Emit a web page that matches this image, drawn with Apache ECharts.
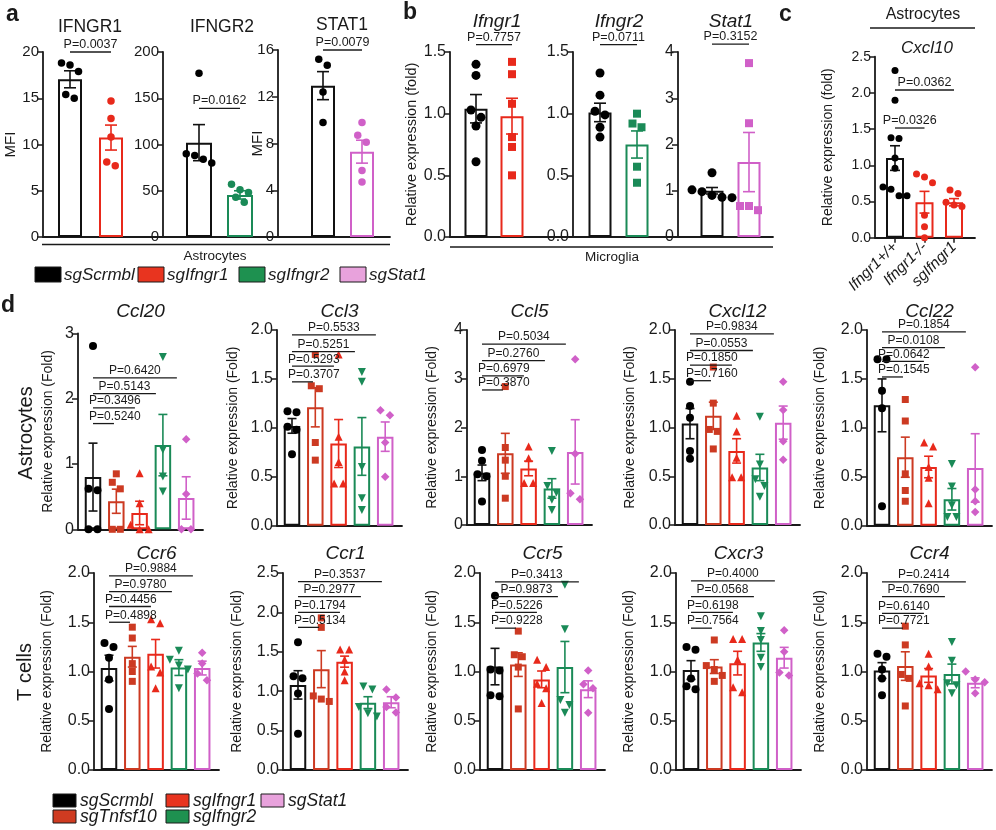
<!DOCTYPE html>
<html>
<head>
<meta charset="utf-8">
<title>Figure</title>
<script src="https://cdn.jsdelivr.net/npm/echarts@6/dist/echarts.min.js"></script>
<style>
html,body{margin:0;padding:0;background:#ffffff;}
#chart{width:996px;height:830px;}
</style>
</head>
<body>
<div id="chart"></div>
<script>
// ===================== DATA =====================
// ---- Panel a : MFI, astrocytes
const aIfngr1Groups = ['sgScrmbl', 'sgIfngr1'];
const aIfngr1Mean = [17.05, 10.75];
const aIfngr1Sem = [0.92, 1.35];
const aIfngr1Points = [[18.8, 18.6, 17.9, 15.4, 15.0], [14.7, 12.8, 10.8, 8.1, 7.7]];
const aIfngr1P = ['P=0.0037'];

const aIfngr2Groups = ['sgScrmbl', 'sgIfngr2'];
const aIfngr2Mean = [102, 45.5];
const aIfngr2Sem = [19.5, 4.5];
const aIfngr2Points = [[177, 90, 88, 84, 80], [57, 51, 48, 43, 37.5]];
const aIfngr2P = ['P=0.0162'];

const aStat1Groups = ['sgScrmbl', 'sgStat1'];
const aStat1Mean = [12.95, 7.3];
const aStat1Sem = [1.2, 0.98];
const aStat1Points = [[15.2, 14.7, 12.4, 9.8], [9.8, 8.7, 8.1, 5.7, 4.7]];
const aStat1P = ['P=0.0079'];

// ---- Panel b : relative expression, microglia
const bIfngr1Groups = ['sgScrmbl', 'sgIfngr1'];
const bIfngr1Mean = [1.04, 0.98];
const bIfngr1Sem = [0.115, 0.145];
const bIfngr1Points = [[1.40, 1.31, 1.03, 0.97, 0.90, 0.61], [1.42, 1.32, 1.08, 0.81, 0.73, 0.50]];
const bIfngr1P = ['P=0.7757'];

const bIfngr2Groups = ['sgScrmbl', 'sgIfngr2'];
const bIfngr2Mean = [1.01, 0.75];
const bIfngr2Sem = [0.075, 0.11];
const bIfngr2Points = [[1.33, 1.15, 1.02, 0.99, 0.89, 0.81], [1.00, 0.92, 0.89, 0.57, 0.44]];
const bIfngr2P = ['P=0.0711'];

const bStat1Groups = ['sgScrmbl', 'sgStat1'];
const bStat1Mean = [1.0, 1.62];
const bStat1Sem = [0.07, 0.64];
const bStat1Points = [[1.39, 1.02, 0.98, 0.90, 0.86, 0.85], [3.76, 2.46, 0.67, 0.67, 0.58]];
const bStat1P = ['P=0.3152'];

// ---- Panel c : Cxcl10, astrocytes
const cGroups = ['Ifngr1+/+', 'Ifngr1-/-', 'sgIfngr1'];
const cMean = [1.10, 0.49, 0.49];
const cSem = [0.17, 0.15, 0.05];
const cPoints = [[2.31, 1.90, 1.38, 1.37, 1.10, 0.96, 0.70, 0.67, 0.58, 0.58],
                 [0.88, 0.84, 0.76, 0.31, 0.15, 0.0],
                 [0.66, 0.61, 0.49, 0.45, 0.43]];
const cP = ['P=0.0326', 'P=0.0362'];

// ---- Panel d : chemokines (astrocytes row, T cells row)
const dGroups = ['sgScrmbl', 'sgTnfsf10', 'sgIfngr1', 'sgIfngr2', 'sgStat1'];

const ccl20Mean = [0.80, 0.43, 0.25, 1.29, 0.48];
const ccl20Sem = [0.52, 0.185, 0.18, 0.47, 0.325];
const ccl20Points = [[2.81, 0.62, 0.60, 0, 0], [0.85, 0.72, 0.62, 0, 0], [0.86, 0.40, 0.07, 0, 0], [2.64, 1.22, 0.81, 0.58], [1.38, 0.54, 0, 0]];
const ccl20P = ['P=0.5240', 'P=0.3496', 'P=0.5143', 'P=0.6420'];

const ccl3Mean = [1.02, 1.21, 0.84, 0.81, 0.91];
const ccl3Sem = [0.075, 0.2, 0.245, 0.295, 0.15];
const ccl3Points = [[1.17, 1.16, 1.01, 0.98, 0.73], [1.75, 1.43, 1.40, 0.85, 0.67], [1.75, 0.91, 0.65, 0.43, 0.43], [1.57, 1.47, 0.60, 0.28, 0.16], [1.18, 1.13, 0.85, 0.50]];
const ccl3P = ['P=0.3707', 'P=0.5293', 'P=0.5251', 'P=0.5533'];

const ccl5Mean = [1.07, 1.47, 1.16, 0.75, 1.50];
const ccl5Sem = [0.16, 0.41, 0.15, 0.2, 0.66];
const ccl5Points = [[1.54, 1.32, 1.04, 1.00, 0.48], [2.84, 1.59, 1.33, 1.00, 0.55], [1.61, 1.37, 0.86, 0.86], [1.52, 0.80, 0.66, 0.52, 0.31], [3.40, 1.46, 0.65, 0.53]];
const ccl5P = ['P=0.3870', 'P=0.6979', 'P=0.2760', 'P=0.5034'];

const cxcl12Mean = [1.04, 1.12, 0.76, 0.59, 1.05];
const cxcl12Sem = [0.155, 0.14, 0.125, 0.135, 0.17];
const cxcl12Points = [[1.47, 1.22, 1.10, 0.76, 0.68], [1.62, 1.25, 0.98, 0.96, 0.78], [1.12, 0.96, 0.69, 0.49, 0.49], [1.11, 0.62, 0.47, 0.40, 0.29], [1.47, 1.18, 0.86, 0.67]];
const cxcl12P = ['P=0.7160', 'P=0.1850', 'P=0.0553', 'P=0.9834'];

const ccl22Mean = [1.23, 0.70, 0.60, 0.27, 0.59];
const ccl22Sem = [0.27, 0.205, 0.11, 0.11, 0.35];
const ccl22Points = [[1.70, 1.70, 1.38, 1.20, 0.20], [1.29, 1.07, 0.53, 0.36, 0.25], [0.85, 0.81, 0.60, 0.49, 0.23], [0.63, 0.40, 0.21, 0.09, 0.09], [1.62, 0.37, 0.25, 0.14]];
const ccl22P = ['P=0.1545', 'P=0.0642', 'P=0.0108', 'P=0.1854'];

const ccr6Mean = [1.035, 1.15, 1.18, 1.04, 1.035];
const ccr6Sem = [0.13, 0.105, 0.145, 0.08, 0.07];
const ccr6Points = [[1.29, 1.25, 1.14, 0.92, 0.62], [1.45, 1.34, 1.08, 1.00, 0.90], [1.53, 1.49, 1.05, 0.99, 0.83], [1.21, 1.12, 1.06, 1.02, 0.83], [1.19, 1.08, 0.98, 0.91]];
const ccr6P = ['P=0.4898', 'P=0.4456', 'P=0.9780', 'P=0.9884'];

const ccr1Mean = [1.08, 1.28, 1.375, 0.855, 0.86];
const ccr1Sem = [0.18, 0.235, 0.07, 0.075, 0.07];
const ccr1Points = [[1.62, 1.19, 1.165, 0.97, 0.46], [1.93, 1.81, 0.94, 0.90, 0.87], [1.53, 1.53, 1.40, 1.25, 1.14], [1.06, 1.02, 0.80, 0.72, 0.68], [1.02, 0.92, 0.80, 0.73]];
const ccr1P = ['P=0.5134', 'P=0.1794', 'P=0.2977', 'P=0.3537'];

const ccr5Mean = [1.05, 1.07, 0.92, 1.045, 0.82];
const ccr5Sem = [0.185, 0.12, 0.085, 0.26, 0.085];
const ccr5Points = [[1.77, 1.02, 1.01, 0.76, 0.75], [1.41, 1.17, 1.15, 1.045, 0.62], [1.12, 1.045, 0.875, 0.83, 0.68], [1.88, 1.43, 0.71, 0.66, 0.58], [1.01, 0.87, 0.83, 0.58]];
const ccr5P = ['P=0.9228', 'P=0.5226', 'P=0.9873', 'P=0.3413'];

const cxcr3Mean = [1.015, 1.05, 1.085, 1.295, 1.14];
const cxcr3Sem = [0.095, 0.07, 0.12, 0.09, 0.105];
const cxcr3Points = [[1.25, 1.22, 0.93, 0.85, 0.82], [1.32, 1.06, 1.02, 0.96, 0.90], [1.33, 1.33, 1.12, 0.84, 0.79], [1.56, 1.41, 1.32, 1.14, 1.045], [1.42, 1.20, 0.99, 0.96]];
const cxcr3P = ['P=0.7564', 'P=0.6198', 'P=0.0568', 'P=0.4000'];

const ccr4Mean = [1.01, 1.055, 0.96, 0.975, 0.885];
const ccr4Sem = [0.08, 0.145, 0.07, 0.1, 0.05];
const ccr4Points = [[1.18, 1.15, 1.02, 0.93, 0.76], [1.46, 1.27, 0.97, 0.93, 0.65], [1.18, 1.05, 0.88, 0.86, 0.82], [1.30, 1.11, 0.88, 0.86, 0.78], [1.00, 0.92, 0.89, 0.78]];
const ccr4P = ['P=0.7721', 'P=0.6140', 'P=0.7690', 'P=0.2414'];

// legend entries
const legendATexts = ['sgScrmbl', 'sgIfngr1', 'sgIfngr2', 'sgStat1'];
const legendDRow1 = ['sgScrmbl', 'sgIfngr1', 'sgStat1'];
const legendDRow2 = ['sgTnfsf10', 'sgIfngr2'];

// ===================== STYLE / LAYOUT =====================
const FONT = '"Liberation Sans", Arial, Helvetica, sans-serif';
const INK = '#1a1a1a';
const groupColor = {
  'sgScrmbl': '#111111', 'sgTnfsf10': '#cc3a22', 'sgIfngr1': '#e8291b',
  'sgIfngr2': '#1a8a57', 'sgStat1': '#d060c8',
  'Ifngr1+/+': '#111111', 'Ifngr1-/-': '#e8291b'
};
const pointColor = g => (g === 'sgScrmbl' || g === 'Ifngr1+/+') ? '#000000' : groupColor[g];
const legendFill = {
  'sgScrmbl': '#000000', 'sgIfngr1': '#e8341f', 'sgIfngr2': '#1e9150',
  'sgStat1': '#e8a2dc', 'sgTnfsf10': '#cf3b21'
};
const dSymbols = {
  'sgScrmbl': {symbol: 'circle', size: 8, rotate: 0},
  'sgTnfsf10': {symbol: 'rect', size: 7, rotate: 0},
  'sgIfngr1': {symbol: 'triangle', size: 8, rotate: 0},
  'sgIfngr2': {symbol: 'triangle', size: 8, rotate: 180},
  'sgStat1': {symbol: 'diamond', size: 8.5, rotate: 0}
};

const panels = [];
const aBase = {pairs: [[0, 1]], bscale: 1, clamp: false, cap: 6, dec: 0, tickFont: 15, nameFont: 15,
  titleFont: 17.5, titleItalic: false, marker: 'a', pFont: 12.5, height: 185, top: 52};
panels.push(Object.assign({}, aBase, {groups: aIfngr1Groups, mean: aIfngr1Mean, sem: aIfngr1Sem, points: aIfngr1Points, pvals: aIfngr1P,
  levels: [20], left: 43, width: 120, first: 27, spacing: 41, barW: 24, ymax: 20, interval: 5,
  yName: 'MFI', nameGap: 25, title: 'IFNGR1', titleX: 90, titleY: 27}));
panels.push(Object.assign({}, aBase, {groups: aIfngr2Groups, mean: aIfngr2Mean, sem: aIfngr2Sem, points: aIfngr2Points, pvals: aIfngr2P,
  levels: [139], left: 163, width: 115, first: 36, spacing: 41, barW: 26, ymax: 200, interval: 50,
  yName: '', nameGap: 10, title: 'IFNGR2', titleX: 222, titleY: 27}));
panels.push(Object.assign({}, aBase, {groups: aStat1Groups, mean: aStat1Mean, sem: aStat1Sem, points: aStat1Points, pvals: aStat1P,
  levels: [16], left: 278, top: 50, height: 187, width: 112, first: 45, spacing: 39, barW: 24, ymax: 16, interval: 4,
  yName: 'MFI', nameGap: 13, title: 'STAT1', titleX: 342, titleY: 25}));

const bBase = {pairs: [[0, 1]], bscale: 1, clamp: false, cap: 6, tickFont: 16, nameFont: 14.5,
  titleFont: 19, titleItalic: true, marker: 'b', pFont: 12.5, height: 185, top: 52, barW: 23};
panels.push(Object.assign({}, bBase, {groups: bIfngr1Groups, mean: bIfngr1Mean, sem: bIfngr1Sem, points: bIfngr1Points, pvals: bIfngr1P,
  levels: [1.56], left: 450, width: 123, first: 26, spacing: 36, ymax: 1.5, interval: 0.5, dec: 1,
  yName: 'Relative expression (fold)', nameGap: 31, title: 'Ifngr1', titleX: 497, titleY: 22}));
panels.push(Object.assign({}, bBase, {groups: bIfngr2Groups, mean: bIfngr2Mean, sem: bIfngr2Sem, points: bIfngr2Points, pvals: bIfngr2P,
  levels: [1.56], left: 573, width: 105, first: 27, spacing: 37, ymax: 1.5, interval: 0.5, dec: 1,
  yName: '', nameGap: 10, title: 'Ifngr2', titleX: 619, titleY: 22}));
panels.push(Object.assign({}, bBase, {groups: bStat1Groups, mean: bStat1Mean, sem: bStat1Sem, points: bStat1Points, pvals: bStat1P,
  levels: [4.17], left: 678, width: 95, first: 34, spacing: 37, ymax: 4, interval: 1, dec: 0,
  yName: '', nameGap: 10, title: 'Stat1', titleX: 731, titleY: 22}));

panels.push({groups: cGroups, mean: cMean, sem: cSem, points: cPoints, pvals: cP, pairs: [[0, 1], [0, 2]], levels: [1.515, 2.04],
  bscale: 1, clamp: false, cap: 5, dec: 1, tickFont: 14, nameFont: 14, titleFont: 17, titleItalic: true, marker: 'c', pFont: 12.5,
  left: 875, top: 56.7, width: 100, height: 181, first: 20, spacing: 29.5, barW: 18, ymax: 2.5, interval: 0.5,
  yName: 'Relative expression (fold)', nameGap: 39.5, title: 'Cxcl10', titleX: 927, titleY: 48, xLabels: true});

function dPanel(title, mean, sem, pts, pv, left, top, height, ymax, interval, nameGap, levels) {
  panels.push({groups: dGroups, mean: mean, sem: sem, points: pts, pvals: pv,
    pairs: [[0, 1], [0, 2], [0, 3], [0, 4]], levels: levels, bscale: 0.9, clamp: true,
    cap: 4.5, dec: interval < 1 ? 1 : 0, tickFont: 16, nameFont: 14, titleFont: 19, titleItalic: true, marker: 'd', pFont: 12,
    left: left, top: top, width: 125, height: height, first: 15, spacing: 23.3, barW: 16.5, ymax: ymax, interval: interval,
    yName: 'Relative expression (Fold)', nameGap: nameGap, title: title, titleX: left + 62.5, titleY: top < 400 ? 312 : 554});
}
dPanel('Ccl20', ccl20Mean, ccl20Sem, ccl20Points, ccl20P, 78, 333.5, 195.8, 3, 1, 23, [1.62, 1.86, 2.08, 2.32]);
dPanel('Ccl3', ccl3Mean, ccl3Sem, ccl3Points, ccl3P, 277, 330, 195.7, 2, 0.5, 37, [1.47, 1.63, 1.78, 1.95]);
dPanel('Ccl5', ccl5Mean, ccl5Sem, ccl5Points, ccl5P, 467, 330, 195, 4, 1, 28, [2.77, 3.06, 3.37, 3.71]);
dPanel('Cxcl12', cxcl12Mean, cxcl12Sem, cxcl12Points, cxcl12P, 675, 330, 195, 2, 0.5, 38, [1.48, 1.64, 1.79, 1.96]);
dPanel('Ccl22', ccl22Mean, ccl22Sem, ccl22Points, ccl22P, 867, 330, 195.7, 2, 0.5, 40, [1.52, 1.68, 1.82, 1.98]);
dPanel('Ccr6', ccr6Mean, ccr6Sem, ccr6Points, ccr6P, 94, 573, 197, 2, 0.5, 40, [1.50, 1.66, 1.81, 1.97]);
dPanel('Ccr1', ccr1Mean, ccr1Sem, ccr1Points, ccr1P, 283, 573, 197, 2.5, 0.5, 39, [1.81, 2.0, 2.20, 2.39]);
dPanel('Ccr5', ccr5Mean, ccr5Sem, ccr5Points, ccr5P, 480, 573, 197, 2, 0.5, 41, [1.44, 1.60, 1.76, 1.91]);
dPanel('Cxcr3', cxcr3Mean, cxcr3Sem, cxcr3Points, cxcr3P, 676, 573, 197, 2, 0.5, 40, [1.44, 1.60, 1.76, 1.92]);
dPanel('Ccr4', ccr4Mean, ccr4Sem, ccr4Points, ccr4P, 867, 573, 197, 2, 0.5, 40, [1.44, 1.59, 1.76, 1.91]);

// ===================== HELPERS =====================
const measureCtx = document.createElement('canvas').getContext('2d');
function textWidth(t, size) { measureCtx.font = size + 'px ' + FONT; return measureCtx.measureText(t).width; }

// simple beeswarm: spread points of similar value horizontally (pixel offsets)
function swarm(vals, ppu, d) {
  const order = vals.map((v, i) => i).sort((a, b) => vals[b] - vals[a]);
  const off = vals.map(() => 0);
  let i = 0;
  while (i < order.length) {
    let j = i + 1;
    while (j < order.length && (vals[order[j - 1]] - vals[order[j]]) * ppu < d * 0.85 &&
           (vals[order[i]] - vals[order[j]]) * ppu < d * 1.3) j++;
    const n = j - i;
    for (let k = 0; k < n; k++) off[order[i + k]] = (k - (n - 1) / 2) * d;
    i = j;
  }
  return off;
}

function symbolFor(p, g, k) {
  if (p.marker === 'a') return {symbol: 'circle', size: 7.5, rotate: 0};
  if (p.marker === 'c') return {symbol: 'circle', size: 7, rotate: 0};
  if (p.marker === 'b') return k === 0 ? {symbol: 'circle', size: 9, rotate: 0} : {symbol: 'rect', size: 8, rotate: 0};
  return dSymbols[g];
}

function textStyle(text, size, extra) {
  extra = extra || {};
  const align = extra.align || 'center', va = extra.va || 'middle';
  return {text: text, fontSize: size, fontFamily: FONT, fontStyle: extra.italic ? 'italic' : 'normal',
    fontWeight: extra.bold ? 'bold' : 'normal', fill: INK, textFill: INK,
    align: align, textAlign: align, verticalAlign: va, textVerticalAlign: va};
}

// ===================== OPTION =====================
const grid = [], xAxis = [], yAxis = [], series = [], graphics = [];
const axisLineStyle = {color: INK, width: 1.8};

panels.forEach((p, gi) => {
  const xmin = -p.first / p.spacing, xmax = (p.width - p.first) / p.spacing;
  grid.push({left: p.left, top: p.top, width: p.width, height: p.height, containLabel: false, outerBoundsMode: 'none'});
  const xa = {type: 'value', gridIndex: gi, min: xmin, max: xmax,
    axisLine: {show: true, onZero: false, lineStyle: axisLineStyle},
    axisTick: {show: false}, axisLabel: {show: false}, splitLine: {show: false}};
  if (p.xLabels) {
    const cv = p.groups.map((g, k) => k);
    xa.axisTick = {show: true, customValues: cv, length: 5, lineStyle: {color: INK, width: 1.5}};
    xa.axisLabel = {show: true, customValues: cv, rotate: 45, margin: 7, color: INK, fontSize: 15.5, fontStyle: 'italic',
      fontFamily: FONT, formatter: v => p.groups[Math.round(v)]};
  }
  xAxis.push(xa);
  yAxis.push({type: 'value', gridIndex: gi, min: 0, max: p.ymax, interval: p.interval,
    axisLine: {show: true, onZero: false, lineStyle: axisLineStyle},
    axisTick: {show: true, inside: false, length: 6, lineStyle: {color: INK, width: 1.5}},
    axisLabel: {show: true, margin: 4, color: INK, fontSize: p.tickFont, fontFamily: FONT,
      formatter: v => p.dec ? v.toFixed(1) : String(Math.round(v))},
    splitLine: {show: false},
    name: p.yName, nameLocation: 'middle', nameGap: p.nameGap, nameMoveOverlap: false,
    nameTextStyle: {fontSize: p.nameFont, fontFamily: FONT, color: INK}});

  // bars (mean)
  series.push({type: 'bar', xAxisIndex: gi, yAxisIndex: gi, barWidth: p.barW, z: 2, silent: true,
    data: p.mean.map((m, k) => ({value: [k, m],
      itemStyle: {color: '#ffffff', borderColor: groupColor[p.groups[k]], borderWidth: 2}}))});

  // error bars (mean ± SEM)
  series.push({type: 'custom', xAxisIndex: gi, yAxisIndex: gi, z: 3, silent: true, clip: false,
    data: p.mean.map((m, k) => [k, m - p.sem[k], m + p.sem[k]]),
    renderItem: (params, api) => {
      const k = api.value(0);
      const lo = api.coord([k, Math.max(0, api.value(1))]);
      const hi = api.coord([k, api.value(2)]);
      const col = groupColor[p.groups[params.dataIndex]];
      const st = {stroke: col, lineWidth: 1.6};
      const c = p.cap;
      return {type: 'group', children: [
        {type: 'line', shape: {x1: lo[0], y1: lo[1], x2: hi[0], y2: hi[1]}, style: st},
        {type: 'line', shape: {x1: hi[0] - c, y1: hi[1], x2: hi[0] + c, y2: hi[1]}, style: st},
        {type: 'line', shape: {x1: lo[0] - c, y1: lo[1], x2: lo[0] + c, y2: lo[1]}, style: st}
      ]};
    }});

  // individual points
  p.groups.forEach((g, k) => {
    const sym = symbolFor(p, g, k);
    const off = swarm(p.points[k], p.height / p.ymax, sym.size + 1);
    series.push({type: 'scatter', xAxisIndex: gi, yAxisIndex: gi, z: 4, silent: true, clip: false,
      symbol: sym.symbol, symbolSize: sym.size, symbolRotate: sym.rotate,
      itemStyle: {color: pointColor(g), opacity: 1},
      data: p.points[k].map((v, j) => ({value: [k, v], symbolOffset: [off[j], 0]}))});
  });

  // significance brackets
  series.push({type: 'custom', xAxisIndex: gi, yAxisIndex: gi, z: 6, silent: true, clip: false,
    data: p.pairs.map((pr, i) => [pr[0], pr[0] + (pr[1] - pr[0]) * p.bscale, p.levels[i]]),
    renderItem: (params, api) => {
      const i = params.dataIndex;
      const a = api.coord([api.value(0), api.value(2)]);
      const b = api.coord([api.value(1), api.value(2)]);
      const t = p.pvals[i];
      const w = textWidth(t, p.pFont);
      let left = (a[0] + b[0]) / 2 - w / 2;
      if (p.clamp) left = Math.max(left, a[0] - 4);
      return {type: 'group', children: [
        {type: 'line', shape: {x1: a[0], y1: a[1], x2: b[0], y2: b[1]}, style: {stroke: INK, lineWidth: 1.3}},
        {type: 'text', x: left, y: a[1] - 1, style: textStyle(t, p.pFont, {align: 'left', va: 'bottom'})}
      ]};
    }});

  // panel title
  graphics.push({type: 'text', x: p.titleX, y: p.titleY, silent: true,
    style: textStyle(p.title, p.titleFont, {italic: p.titleItalic})});
});

// ---- static annotations: letters, group brackets, row labels, legends
function addText(text, x, y, size, extra) {
  extra = extra || {};
  graphics.push({type: 'text', x: x, y: y, rotation: extra.rotation || 0, silent: true, style: textStyle(text, size, extra)});
}
function addLine(x1, x2, y, w) {
  graphics.push({type: 'line', silent: true, shape: {x1: x1, y1: y, x2: x2, y2: y}, style: {stroke: INK, lineWidth: w || 1.5}});
}
function addBox(x, y, w, h, fill) {
  graphics.push({type: 'rect', silent: true, shape: {x: x, y: y, width: w, height: h}, style: {fill: fill, stroke: '#1a1a1a', lineWidth: 1}});
}

addText('a', 6, 15, 23, {bold: true, align: 'left'});
addText('b', 403, 13, 23, {bold: true, align: 'left'});
addText('c', 779, 15, 23, {bold: true, align: 'left'});
addText('d', 1, 306, 23, {bold: true, align: 'left'});

addLine(42, 390, 244.5, 1.5);
addText('Astrocytes', 215, 256, 13.5);
addLine(450, 773, 247, 1.5);
addText('Microglia', 612, 257, 13.5);
addText('Astrocytes', 923, 15, 16);
addLine(870, 975, 28, 1.5);

addText('Astrocytes', 26, 433, 20, {rotation: Math.PI / 2});
addText('T cells', 25, 672, 20, {rotation: Math.PI / 2});

// legend a
const legendAX = [35, 138, 239, 340];
legendATexts.forEach((t, i) => {
  addBox(legendAX[i], 267, 26, 15, legendFill[t]);
  addText(t, legendAX[i] + 29, 275, 17, {italic: true, align: 'left'});
});
// legend d
const legendDX = [53, 166, 261];
legendDRow1.forEach((t, i) => {
  addBox(legendDX[i], 794, 23, 13, legendFill[t]);
  addText(t, legendDX[i] + 27, 801, 17.5, {italic: true, align: 'left'});
});
legendDRow2.forEach((t, i) => {
  addBox(legendDX[i], 810, 23, 13, legendFill[t]);
  addText(t, legendDX[i] + 27, 817, 17.5, {italic: true, align: 'left'});
});

const option = {
  animation: false,
  backgroundColor: '#ffffff',
  grid: grid, xAxis: xAxis, yAxis: yAxis, series: series,
  graphic: {elements: graphics}
};

const chart = echarts.init(document.getElementById('chart'), null, {renderer: 'canvas', width: 996, height: 830});
chart.setOption(option);
</script>
</body>
</html>
